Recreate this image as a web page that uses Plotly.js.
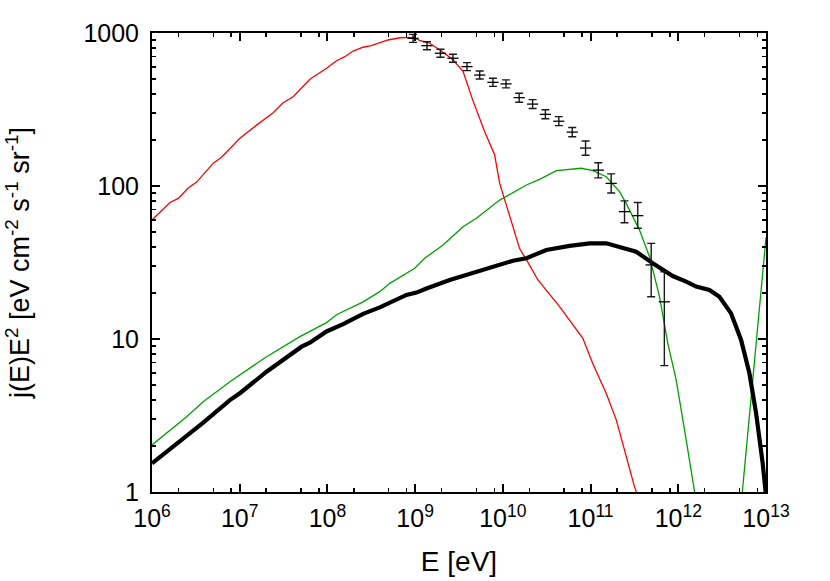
<!DOCTYPE html>
<html>
<head>
<meta charset="utf-8">
<script src="https://cdn.plot.ly/plotly-3.0.1.min.js"></script>
<style>html,body{margin:0;padding:0;background:#fff;}#chart{width:830px;height:581px;}</style>
</head>
<body>
<div id="chart"></div>
<script>
// ---- data (log10 of energy in eV, and j(E)E^2 values) ----
const redLogE = [6.0, 6.205, 6.30, 6.413, 6.509, 6.698, 6.793, 7.002, 7.192, 7.382, 7.495, 7.609, 7.80, 7.99, 8.104, 8.198, 8.293, 8.407, 8.50, 8.69, 8.825, 8.976, 9.052, 9.166, 9.28, 9.432, 9.546, 9.66, 9.793, 9.906, 9.964, 10.02, 10.115, 10.191, 10.268, 10.4, 10.647, 10.798, 10.912, 11.026, 11.179, 11.293, 11.387, 11.501, 11.558];
const redVals = [60, 78, 83, 97, 106, 141, 154, 205, 250, 301, 350, 383, 498, 588, 659, 700, 762, 807, 826, 900, 931, 937, 896, 857, 778, 669, 562, 360, 226, 160, 104, 81, 54, 39, 33, 24.3, 16.3, 12.4, 10.1, 6.9, 4.4, 2.96, 1.88, 1.08, 0.89];

const greenLogE = [6.0, 6.395, 6.584, 6.888, 7.306, 7.495, 7.686, 7.99, 8.104, 8.407, 8.597, 8.711, 8.995, 9.109, 9.318, 9.546, 9.698, 9.964, 10.268, 10.419, 10.609, 10.894, 11.026, 11.179, 11.33, 11.406, 11.558, 11.672, 11.786, 11.88, 11.976, 12.09, 12.185, 12.22, 12.5, 12.73, 13.0];
const greenVals = [2.03, 3.10, 3.89, 5.26, 7.66, 8.91, 10.36, 12.8, 14.4, 17.5, 20.4, 23.1, 29.0, 33.7, 41.1, 54.2, 61.5, 80.9, 101.5, 110.6, 126, 130.6, 126, 115, 91.8, 77, 51.5, 34.5, 18.9, 9.4, 5.4, 2.19, 1.0, 0.76, null, 1.0, 46];

const blackLogE = [6.0, 6.319, 6.584, 6.888, 7.002, 7.306, 7.705, 7.80, 7.99, 8.179, 8.407, 8.597, 8.901, 9.015, 9.129, 9.394, 9.66, 9.887, 10.115, 10.268, 10.495, 10.761, 10.989, 11.179, 11.33, 11.52, 11.709, 11.937, 12.09, 12.204, 12.355, 12.469, 12.602, 12.716, 12.811, 12.887, 12.962, 13.0];
const blackVals = [1.54, 2.13, 2.84, 3.99, 4.42, 6.11, 8.91, 9.46, 11.2, 12.5, 14.6, 16.1, 19.4, 20.1, 21.4, 24.3, 26.9, 29.7, 32.5, 33.7, 38.2, 40.6, 42.2, 42.2, 40.1, 37.2, 31.3, 25.8, 23.7, 22.0, 20.9, 18.9, 14.7, 9.85, 5.97, 3.27, 1.54, 0.95];

const dataLogE = [8.976, 9.135, 9.288, 9.431, 9.591, 9.736, 9.887, 10.036, 10.186, 10.339, 10.485, 10.638, 10.791, 10.943, 11.088, 11.235, 11.387, 11.538, 11.691, 11.841];
const dataVals = [923, 826, 737, 684, 603, 531, 476, 465, 378, 343, 294, 265, 225, 177, 127, 104, 68, 64, 30.5, 17.5];
const dataErrPlus = [57, 51, 46, 42, 37, 33, 30, 29, 26, 24, 21, 19, 16, 20, 15, 16, 12, 14, 11.7, 10];
const dataErrMinus = [54, 48, 43, 40, 35, 31, 28, 27, 25, 22, 19, 17, 15, 18, 14, 14, 10.5, 11, 11.6, 10.8];

const xTickExp = [6, 7, 8, 9, 10, 11, 12, 13];
const xTickText = ["10<sup>6</sup>", "10<sup>7</sup>", "10<sup>8</sup>", "10<sup>9</sup>", "10<sup>10</sup>", "10<sup>11</sup>", "10<sup>12</sup>", "10<sup>13</sup>"];
const yTickVals = [1, 10, 100, 1000];
const yTickText = ["1", "10", "100", "1000"];

const toE = a => a.map(v => Math.pow(10, v));

const xMinor = [];
for (let d = 6; d < 13; d++) [2, 5, 8].forEach(m => xMinor.push(m * Math.pow(10, d)));
const yMinor = [];
for (let d = 0; d < 3; d++) for (let m = 2; m <= 9; m++) yMinor.push(m * Math.pow(10, d));

const traces = [
  {x: toE(redLogE), y: redVals, mode: 'lines', line: {color: '#ff0000', width: 1.3}, hoverinfo: 'skip'},
  {x: toE(greenLogE), y: greenVals, mode: 'lines', line: {color: '#00a000', width: 1.3}, connectgaps: false, hoverinfo: 'skip'},
  {x: toE(blackLogE), y: blackVals, mode: 'lines', line: {color: '#000000', width: 4.2}, hoverinfo: 'skip'},
  {x: toE(dataLogE), y: dataVals, mode: 'markers',
   marker: {symbol: 'line-ew', size: 8, color: '#000', line: {color: '#000', width: 1.3}},
   error_y: {type: 'data', symmetric: false, array: dataErrPlus, arrayminus: dataErrMinus, color: '#1a1a1a', thickness: 1.4, width: 4},
   hoverinfo: 'skip'}
];

const fontFam = 'Liberation Sans, Arial, sans-serif';
const layout = {
  width: 830, height: 581,
  margin: {l: 152, r: 64, t: 33, b: 89},
  paper_bgcolor: '#fff', plot_bgcolor: '#fff',
  showlegend: false,
  font: {family: fontFam, color: '#000', size: 25},
  xaxis: {
    type: 'log', range: [6, 13],
    tickmode: 'array', tickvals: toE(xTickExp), ticktext: xTickText,
    ticks: 'inside', ticklen: 8, tickwidth: 2, tickcolor: '#000',
    showline: true, linewidth: 2, linecolor: '#000', mirror: 'allticks',
    showgrid: false, zeroline: false,
    tickfont: {size: 25, family: fontFam},
    ticklabelstandoff: 3,
    minor: {tickmode: 'array', tickvals: xMinor, ticks: 'inside', ticklen: 4, tickwidth: 1.5, tickcolor: '#000', showgrid: false},
    title: {text: 'E [eV]', font: {size: 28, family: fontFam}, standoff: 20}
  },
  yaxis: {
    type: 'log', range: [0, 3],
    tickmode: 'array', tickvals: yTickVals, ticktext: yTickText,
    ticks: 'inside', ticklen: 8, tickwidth: 2, tickcolor: '#000',
    showline: true, linewidth: 2, linecolor: '#000', mirror: 'allticks',
    showgrid: false, zeroline: false,
    tickfont: {size: 25, family: fontFam},
    ticklabelstandoff: 6,
    minor: {tickmode: 'array', tickvals: yMinor, ticks: 'inside', ticklen: 4, tickwidth: 1.5, tickcolor: '#000', showgrid: false},
    title: {text: 'j(E)E<sup>2</sup> [eV cm<sup>-2</sup> s<sup>-1</sup> sr<sup>-1</sup>]', font: {size: 27, family: fontFam}, standoff: 46}
  }
};

Plotly.newPlot('chart', traces, layout, {displayModeBar: false, staticPlot: true});
</script>
</body>
</html>
